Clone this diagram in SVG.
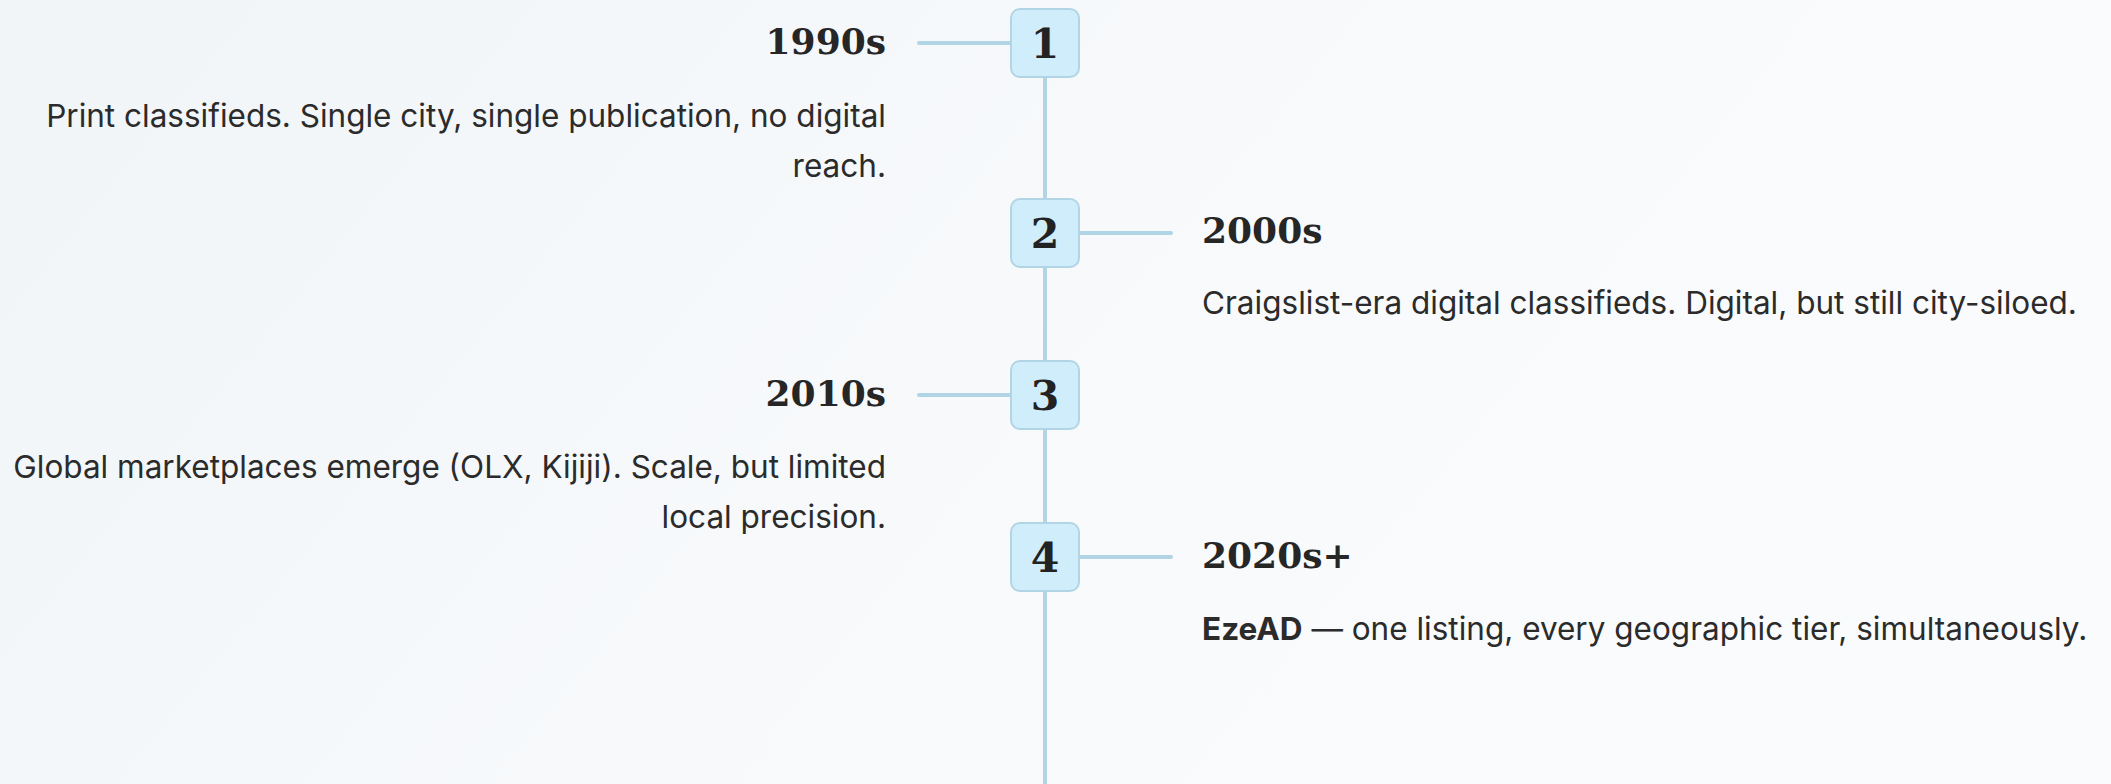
<svg xmlns="http://www.w3.org/2000/svg" width="2111" height="784" viewBox="0 0 2111 784">
  <defs>
    <linearGradient id="bg" x1="0" y1="0" x2="1" y2="0.3">
      <stop offset="0" stop-color="#f1f5f8"/>
      <stop offset="0.55" stop-color="#f7f9fb"/>
      <stop offset="1" stop-color="#fafbfc"/>
    </linearGradient>
    <style>
      .conn { stroke: #b2d5e6; stroke-width: 4; stroke-linecap: round; fill: none; }
      .box { fill: #d0edfc; stroke: #b2d5e6; stroke-width: 2; }
      .num { font-family: "DejaVu Serif", "Liberation Serif", serif; font-weight: bold; font-size: 41px; fill: #222222; text-anchor: middle; }
      .title { font-family: "DejaVu Serif", "Liberation Serif", serif; font-weight: bold; font-size: 36px; fill: #262626; }
      .desc { font-family: "Inter", "Liberation Sans", sans-serif; font-size: 31.5px; fill: #2b2b2b; }
      .left { text-anchor: end; }
      .right { text-anchor: start; }
    </style>
  </defs>
  <rect x="0" y="0" width="2111" height="784" fill="url(#bg)"/>

  <g id="connectors">
    <line class="conn" x1="1045" y1="77" x2="1045" y2="784"/>
    <line class="conn" x1="919" y1="43" x2="1011" y2="43"/>
    <line class="conn" x1="1079" y1="233" x2="1171" y2="233"/>
    <line class="conn" x1="919" y1="395" x2="1011" y2="395"/>
    <line class="conn" x1="1079" y1="557" x2="1171" y2="557"/>
  </g>

  <g id="node-1">
    <rect class="box" x="1011" y="9" width="68" height="68" rx="9"/>
    <text class="num" x="1045" y="58">1</text>
    <text class="title left" x="886" y="54">1990s</text>
    <text class="desc left" x="886" y="127">Print classifieds. Single city, single publication, no digital</text>
    <text class="desc left" x="886" y="177">reach.</text>
  </g>

  <g id="node-2">
    <rect class="box" x="1011" y="199" width="68" height="68" rx="9"/>
    <text class="num" x="1045" y="248">2</text>
    <text class="title right" x="1202" y="243">2000s</text>
    <text class="desc right" x="1202" y="314">Craigslist-era digital classifieds. Digital, but still city-siloed.</text>
  </g>

  <g id="node-3">
    <rect class="box" x="1011" y="361" width="68" height="68" rx="9"/>
    <text class="num" x="1045" y="410">3</text>
    <text class="title left" x="886" y="406">2010s</text>
    <text class="desc left" x="886" y="478">Global marketplaces emerge (OLX, Kijiji). Scale, but limited</text>
    <text class="desc left" x="886" y="528">local precision.</text>
  </g>

  <g id="node-4">
    <rect class="box" x="1011" y="523" width="68" height="68" rx="9"/>
    <text class="num" x="1045" y="572">4</text>
    <text class="title right" x="1202" y="568">2020s+</text>
    <text class="desc right" x="1202" y="640"><tspan font-weight="bold">EzeAD</tspan> — one listing, every geographic tier, simultaneously.</text>
  </g>
</svg>
